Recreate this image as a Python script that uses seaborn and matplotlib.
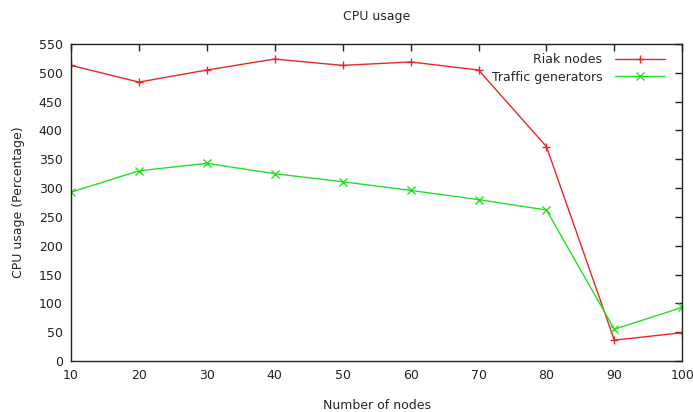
import matplotlib
matplotlib.use("Agg")
import matplotlib.pyplot as plt
import seaborn as sns
import pandas as pd

nodes = [10, 20, 30, 40, 50, 60, 70, 80, 90, 100]
riak = [513, 484, 505, 524, 513, 519, 505, 372, 36, 49]
traffic = [293, 330, 343, 325, 311, 296, 280, 262, 55, 93]
series_names = ["Riak nodes", "Traffic generators"]
x_ticks = [10, 20, 30, 40, 50, 60, 70, 80, 90, 100]
y_ticks = [0, 50, 100, 150, 200, 250, 300, 350, 400, 450, 500, 550]

df = pd.DataFrame({
    "nodes": nodes * 2,
    "cpu": riak + traffic,
    "series": [series_names[0]] * len(nodes) + [series_names[1]] * len(nodes),
})

sns.set_style("white")
plt.rcParams['font.family'] = ['DejaVu Sans']

fig = plt.figure(figsize=(6.93, 4.12), dpi=100)
ax = fig.add_axes([0.1025, 0.124, 0.882, 0.769])

palette = {series_names[0]: "#e8262b", series_names[1]: "#22e022"}
sns.lineplot(data=df, x="nodes", y="cpu", hue="series", style="series",
             palette=palette, markers={series_names[0]: "+", series_names[1]: "x"},
             dashes=False, linewidth=1.0, markersize=6, markeredgewidth=1.0,
             ax=ax, legend=True)
for ln in ax.lines:
    ln.set_markeredgecolor(ln.get_color())

ax.set_xlim(10, 100)
ax.set_ylim(0, 550)
ax.set_xticks(x_ticks)
ax.set_yticks(y_ticks)
ax.tick_params(direction="in", top=True, right=True, length=5, width=1,
               labelsize=9, colors="#222222", pad=6)
for s in ax.spines.values():
    s.set_color("#222222")
    s.set_linewidth(1.0)

ax.set_title("CPU usage", fontsize=9, pad=17)
ax.set_xlabel("Number of nodes", fontsize=9, labelpad=12)
ax.set_ylabel("CPU usage (Percentage)", fontsize=9, labelpad=10)

leg = ax.legend(loc="upper right", bbox_to_anchor=(0.987, 1.0), frameon=False,
                markerfirst=False, fontsize=9, handlelength=4, borderaxespad=0.35,
                labelspacing=0.35, handletextpad=1.0)
for h in leg.legend_handles:
    h.set_markeredgecolor(h.get_color())

fig.savefig("out.png", dpi=100)
